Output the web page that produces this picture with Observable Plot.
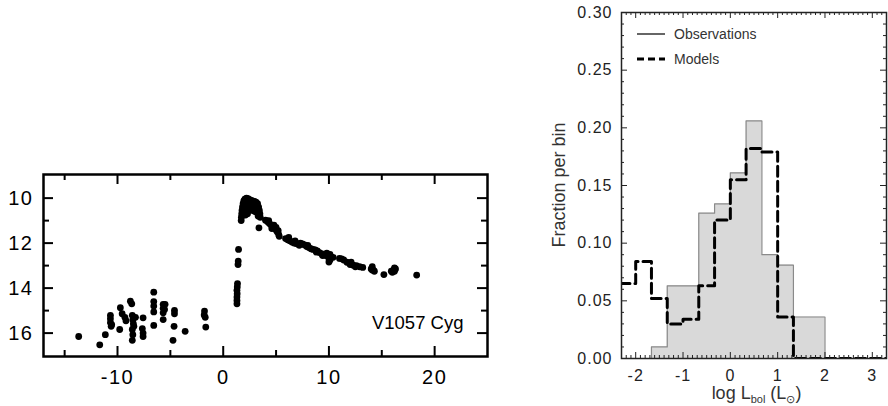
<!DOCTYPE html>
<html>
<head>
<meta charset="utf-8">
<script src="https://cdn.jsdelivr.net/npm/d3@7"></script>
<script src="https://cdn.jsdelivr.net/npm/@observablehq/plot@0.6"></script>
<style>
  body { margin: 0; background: #fff; }
  #wrap { position: relative; width: 888px; height: 406px; overflow: hidden; background: #fff; }
  #wrap svg { position: absolute; top: 0; }
</style>
</head>
<body>
<div id="wrap"></div>
<script>
const FONT = "'Liberation Sans', Arial, Helvetica, sans-serif";

// ---------------- Left panel data: V1057 Cyg light curve ----------------
const quiescentYear = [-13.67,-11.68,-11.15,-10.67,-10.67,-10.67,-10.6,-10.55,-9.79,-9.73,-9.56,-9.3,-9.2,-8.78,-8.65,-8.6,-8.55,-8.5,-8.6,-8.55,-8.6,-8.45,-8.3,-7.58,-7.65,-7.58,-7.58,-6.57,-6.57,-6.57,-6.57,-6.57,-5.68,-5.68,-5.68,-5.55,-5.5,-5.68,-4.61,-4.61,-4.65,-4.75,-3.6,-1.77,-1.8,-1.7,-1.65];
const quiescentMag  = [16.15,16.52,16.07,15.21,15.36,15.53,15.7,15.62,15.84,14.87,15.14,15.3,15.45,14.58,14.7,15.21,15.41,15.58,15.84,16.07,16.32,15.7,15.3,15.32,15.8,16.0,16.15,14.18,14.6,14.8,15.06,15.66,14.72,14.9,15.1,14.95,14.72,15.4,14.99,15.14,15.7,16.32,15.92,15.02,15.19,15.3,15.73];
const riseYear = [1.3,1.3,1.3,1.32,1.3,1.33,1.35,1.4,1.42,1.45];
const riseMag  = [14.7,14.55,14.4,14.25,14.1,13.95,13.8,12.95,12.8,12.28];
const peakYear = [1.7,1.72,1.75,1.78,1.82,1.88,1.95,2.05,2.2,2.35,2.5,2.65,2.8,2.95,3.1,3.25,3.35,3.42,3.47,3.5,2.1,2.3,2.5,2.7,2.9,3.1,2.0,2.2,2.4,2.6,2.8,3.0,3.2,1.9,2.1,2.3,3.3,3.38];
const peakMag  = [11.0,10.85,10.7,10.55,10.4,10.25,10.12,10.05,10.0,10.02,10.07,10.1,10.12,10.15,10.18,10.25,10.4,10.55,10.7,10.85,10.25,10.3,10.3,10.35,10.35,10.4,10.45,10.5,10.55,10.5,10.55,10.6,10.65,10.7,10.75,10.7,10.8,11.32];
const declineYear = [4.0,4.2,4.35,4.5,4.65,4.8,4.95,5.1,5.25,5.3,4.6,5.0,5.9,6.1,6.3,6.5,6.7,6.9,7.1,7.3,7.5,7.7,7.9,8.1,8.3,8.5,8.7,8.9,9.1,9.3,9.5,9.7,9.9,10.0,10.0,10.2,10.4,11.0,11.2,11.4,11.7,12.0,12.3,12.6,12.9,13.2,14.0,14.1,14.2,14.3,15.2,15.9,16.1,16.3,16.2,18.3,
                     4.3,4.8,5.2,6.2,6.8,7.2,8.0,8.8,9.4,9.8,10.1,10.1,12.1,12.5,14.1,16.2,16.0];
const declineMag  = [10.98,11.05,11.12,11.18,11.25,11.32,11.4,11.5,11.62,11.7,11.35,11.3,11.8,11.85,11.9,11.95,12.0,12.02,12.05,12.0,12.03,12.08,12.15,12.2,12.25,12.28,12.3,12.35,12.42,12.47,12.52,12.55,12.55,12.7,12.84,12.6,12.63,12.68,12.7,12.75,12.85,12.95,12.98,13.0,13.05,13.08,13.15,13.05,13.2,13.25,13.4,13.25,13.2,13.15,13.25,13.42,
                     11.0,11.2,11.45,11.75,11.9,12.1,12.1,12.4,12.55,12.45,12.5,12.75,12.85,13.05,13.2,13.1,13.3];
const lcXLabels = [-10, 0, 10, 20];
const lcXMinor  = [-15, -5, 5, 15];
const lcYLabels = [10, 12, 14, 16];
const lcYMinor  = [11, 13, 15];
const starName = "V1057 Cyg";

// ---------------- Right panel data: luminosity histograms ----------------
const obsEdges    = [-1.667,-1.333,-1.0,-0.667,-0.333,0,0.333,0.667,1.0,1.333,1.667,2.0];
const obsFraction = [0.010,0.063,0.063,0.126,0.134,0.161,0.206,0.090,0.081,0.036,0.036];
const modelEdges    = [-2.333,-2.0,-1.667,-1.333,-1.0,-0.667,-0.333,0,0.333,0.667,1.0,1.333,1.667,2.0,2.333,2.667,3.0,3.333];
const modelFraction = [0.065,0.084,0.052,0.030,0.034,0.063,0.120,0.155,0.182,0.179,0.036,0,0,0,0,0,0];
const histXLabels = [-2, -1, 0, 1, 2, 3];
const histYLabels = [0, 0.05, 0.10, 0.15, 0.20, 0.25, 0.30];
const histXMinor = d3.range(-23, 34).filter(i => i % 10 !== 0).map(i => i / 10);
const histYMinor = d3.range(0, 31).filter(i => i % 5 !== 0).map(i => i / 100);
const legendNames = ["Observations", "Models"];
const yTitle = "Fraction per bin";

// ---------------- build tables ----------------
const lc = [];
function addPts(xs, ys) { xs.forEach((x, i) => lc.push({year: x, mag: ys[i]})); }
addPts(quiescentYear, quiescentMag);
addPts(riseYear, riseMag);
addPts(peakYear, peakMag);
addPts(declineYear, declineMag);

const obsPts = [{x: obsEdges[0], y: 0}];
obsFraction.forEach((v, i) => obsPts.push({x: obsEdges[i], y: v}));
obsPts.push({x: obsEdges[obsEdges.length - 1], y: obsFraction[obsFraction.length - 1]});
obsPts.push({x: obsEdges[obsEdges.length - 1], y: 0});

const modelPts = [];
modelFraction.forEach((v, i) => modelPts.push({x: modelEdges[i], y: v}));
modelPts.push({x: modelEdges[modelEdges.length - 1], y: 0});

const wrap = document.getElementById("wrap");

// ---------------- Left panel ----------------
const LW = 500, LH = 406, LmL = 43, LmR = 13, LmT = 174, LmB = 50;
const LfW = LW - LmL - LmR, LfH = LH - LmT - LmB;
const left = Plot.plot({
  width: LW, height: LH,
  marginLeft: LmL, marginRight: LmR, marginTop: LmT, marginBottom: LmB,
  style: {fontFamily: FONT, fontSize: "20px", color: "#000", background: "transparent", overflow: "visible"},
  x: {domain: [-17, 25], label: null},
  y: {domain: [8.95, 17.04], reverse: true, label: null},
  marks: [
    Plot.axisX(lcXLabels, {tickSize: 0, tickPadding: 13, tickFormat: d => String(d), label: null}),
    Plot.axisY(lcYLabels, {tickSize: 0, tickPadding: 10, tickFormat: d => String(d), label: null}),
    // inward ticks on all four sides
    Plot.ruleX(lcXLabels, {x: d => d, insetBottom: LfH - 10, stroke: "#000", strokeWidth: 2}),
    Plot.ruleX(lcXLabels, {x: d => d, insetTop: LfH - 10, stroke: "#000", strokeWidth: 2}),
    Plot.ruleX(lcXMinor, {x: d => d, insetBottom: LfH - 6, stroke: "#000", strokeWidth: 2}),
    Plot.ruleX(lcXMinor, {x: d => d, insetTop: LfH - 6, stroke: "#000", strokeWidth: 2}),
    Plot.ruleY(lcYLabels, {y: d => d, insetRight: LfW - 10, stroke: "#000", strokeWidth: 2}),
    Plot.ruleY(lcYLabels, {y: d => d, insetLeft: LfW - 10, stroke: "#000", strokeWidth: 2}),
    Plot.ruleY(lcYMinor, {y: d => d, insetRight: LfW - 6, stroke: "#000", strokeWidth: 2}),
    Plot.ruleY(lcYMinor, {y: d => d, insetLeft: LfW - 6, stroke: "#000", strokeWidth: 2}),
    Plot.dot(lc, {x: "year", y: "mag", r: 3.4, fill: "#000", stroke: "none"}),
    Plot.text([starName], {frameAnchor: "bottom-right", textAnchor: "end", lineAnchor: "middle", dx: -24, dy: -33, fontSize: 18.5, fill: "#000"}),
    Plot.frame({stroke: "#000", strokeWidth: 2.5})
  ]
});
left.style.left = "0px";
wrap.appendChild(left);
d3.select(left).selectAll('g[aria-label="x-axis tick label"] text, g[aria-label="y-axis tick label"] text')
  .attr("letter-spacing", "1.5px");

// ---------------- Right panel ----------------
const RW = 358, RH = 406, RmL = 91, RmR = 2, RmT = 12, RmB = 48;
const RfW = RW - RmL - RmR, RfH = RH - RmT - RmB;
const right = Plot.plot({
  width: RW, height: RH,
  marginLeft: RmL, marginRight: RmR, marginTop: RmT, marginBottom: RmB,
  style: {fontFamily: FONT, fontSize: "16px", color: "#222", background: "transparent", overflow: "visible"},
  x: {domain: [-2.3, 3.3], label: null},
  y: {domain: [0, 0.30], label: null},
  marks: [
    Plot.areaY(obsPts, {x: "x", y: "y", curve: "step-after", fill: "#d9d9d9"}),
    Plot.line(obsPts, {x: "x", y: "y", curve: "step-after", stroke: "#8a8a8a", strokeWidth: 1.2}),
    Plot.line(modelPts, {x: "x", y: "y", curve: "step-after", stroke: "#000", strokeWidth: 3, strokeDasharray: "10,5", clip: true}),
    Plot.ruleX(histXLabels, {x: d => d, insetBottom: RfH - 6, stroke: "#222", strokeWidth: 1}),
    Plot.ruleX(histXLabels, {x: d => d, insetTop: RfH - 6, stroke: "#222", strokeWidth: 1}),
    Plot.ruleX(histXMinor, {x: d => d, insetBottom: RfH - 3, stroke: "#222", strokeWidth: 1}),
    Plot.ruleX(histXMinor, {x: d => d, insetTop: RfH - 3, stroke: "#222", strokeWidth: 1}),
    Plot.ruleY(histYLabels, {y: d => d, insetRight: RfW - 6, stroke: "#222", strokeWidth: 1}),
    Plot.ruleY(histYLabels, {y: d => d, insetLeft: RfW - 6, stroke: "#222", strokeWidth: 1}),
    Plot.ruleY(histYMinor, {y: d => d, insetRight: RfW - 3, stroke: "#222", strokeWidth: 1}),
    Plot.ruleY(histYMinor, {y: d => d, insetLeft: RfW - 3, stroke: "#222", strokeWidth: 1}),
    Plot.axisX(histXLabels, {tickSize: 0, tickPadding: 11, tickFormat: d => String(d), label: null}),
    Plot.axisY(histYLabels, {tickSize: 0, tickPadding: 9, tickFormat: d3.format(".2f"), label: null}),
    Plot.frame({stroke: "#222", strokeWidth: 1.5})
  ]
});
right.style.left = "530px";
wrap.appendChild(right);
const rs = d3.select(right);
rs.selectAll('g[aria-label="x-axis tick label"] text, g[aria-label="y-axis tick label"] text')
  .attr("letter-spacing", "1px");

// legend
const lg = rs.append("g").attr("font-family", FONT).attr("font-size", 14).attr("fill", "#333")
  .attr("text-anchor", "start");
lg.append("line").attr("x1", 107).attr("x2", 135).attr("y1", 34).attr("y2", 34)
  .attr("stroke", "#333").attr("stroke-width", 1.5);
lg.append("text").attr("x", 144).attr("y", 35).attr("dominant-baseline", "middle").text(legendNames[0]);
lg.append("line").attr("x1", 107).attr("x2", 135).attr("y1", 59).attr("y2", 59)
  .attr("stroke", "#000").attr("stroke-width", 3).attr("stroke-dasharray", "7,4");
lg.append("text").attr("x", 144).attr("y", 60).attr("dominant-baseline", "middle").text(legendNames[1]);

// axis titles
rs.append("text").attr("font-family", FONT).attr("font-size", 18).attr("fill", "#333")
  .attr("text-anchor", "middle").attr("transform", `translate(35,${RmT + RfH / 2}) rotate(-90)`)
  .text(yTitle);
const xt = rs.append("text").attr("font-family", FONT).attr("font-size", 18).attr("fill", "#333")
  .attr("text-anchor", "middle").attr("x", RmL + RfW / 2 + 3).attr("y", 399);
xt.append("tspan").text("log L");
xt.append("tspan").attr("font-size", 11).attr("dy", 4).attr("fill", "#333").text("bol");
xt.append("tspan").attr("dy", -4).text(" (L");
xt.append("tspan").attr("font-size", 11).attr("dy", 4).attr("fill", "#333").text("\u2299");
xt.append("tspan").attr("dy", -4).text(")");
</script>
</body>
</html>
